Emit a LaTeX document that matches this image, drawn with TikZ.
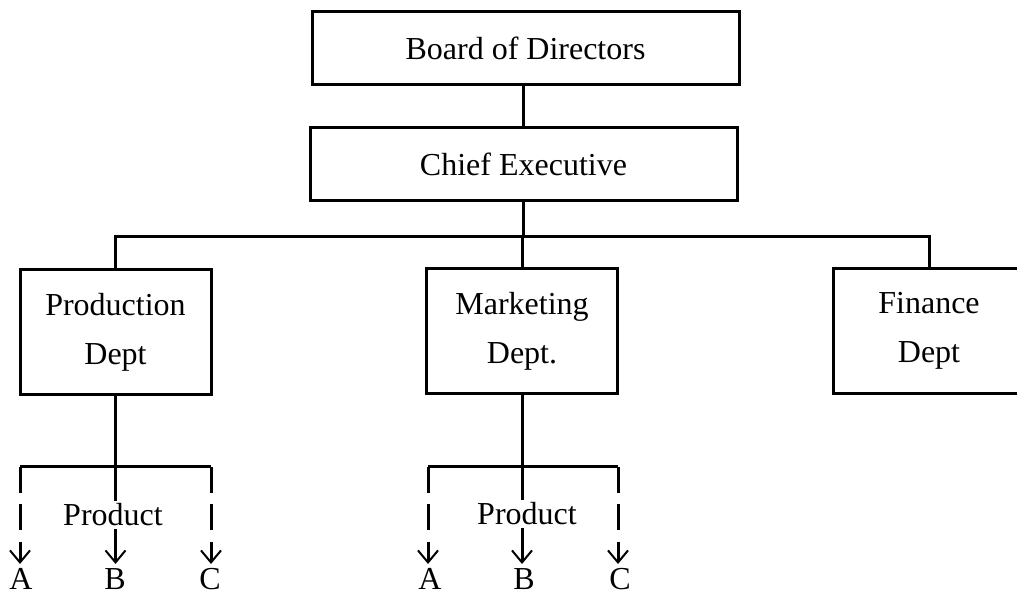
\documentclass[tikz,border=0pt]{standalone}
\usepackage{fontspec}
\setmainfont{Liberation Serif}
\usetikzlibrary{arrows.meta}
\begin{document}
\begin{tikzpicture}[x=0.5pt,y=-0.5pt,
  box/.style={draw,line width=1.5pt,inner sep=0pt,align=center,font=\fontsize{16}{24.5}\selectfont},
  widebox/.style={box,minimum width=213.5pt,minimum height=36.5pt},
  deptbox/.style={box,minimum width=95.5pt,minimum height=62.5pt},
  conn/.style={line width=1.5pt},
  branch/.style={line width=1.5pt,dash pattern=on 13pt off 5.75pt},
  tip/.style={-{Straight Barb[length=6pt,width=10pt,line width=1pt]}},
  lbl/.style={inner sep=0pt,font=\fontsize{16}{19}\selectfont,anchor=base},
  prodlbl/.style={lbl,fill=white,inner sep=1.5pt}]
\useasboundingbox (0,0) rectangle (1017,597);

% boxes
\node[widebox] (board) at (525.5,48.5) {Board of Directors};
\node[widebox] (chief) at (523.5,164.5) {Chief Executive};
\node[deptbox] (prod) at (115.5,332.5) {Production\\Dept};
\node[deptbox] (mkt) at (522,331.5) {Marketing\\Dept.};
\node[deptbox] (fin) at (929,331) {Finance\\Dept};

% top connectors
\coordinate (bus) at (523,237);
\draw[conn] (chief.north) -- (chief.north |- board.south);
\draw[conn] (chief.south) -- (chief.south |- bus);
\draw[conn] (prod.north) |- (fin.north |- bus) -- (fin.north);
\draw[conn] (mkt.north) -- (mkt.north |- bus);

% production products
\coordinate (pa0) at (20,467);
\coordinate (pc0) at (211,467);
\coordinate (pat) at (20,564);
\coordinate (pbt) at (115.5,564);
\coordinate (pct) at (211,564);
\draw[conn] (pa0) -- (pc0);
\draw[branch,tip] (pa0) -- (pat);
\draw[branch,tip] (pc0) -- (pct);
\draw[conn,tip] (prod.south) -- (pbt);
\node[prodlbl] (pprod) at (113,526) {Product};
\node[lbl] (pA) at (21,590) {A};
\node[lbl] (pB) at (115,590) {B};
\node[lbl] (pC) at (210,590) {C};

% marketing products
\coordinate (ma0) at (428,467);
\coordinate (mc0) at (618,467);
\coordinate (mat) at (428,564);
\coordinate (mbt) at (522,564);
\coordinate (mct) at (618,564);
\draw[conn] (ma0) -- (mc0);
\draw[branch,tip] (ma0) -- (mat);
\draw[branch,tip] (mc0) -- (mct);
\draw[conn,tip] (mkt.south) -- (mbt);
\node[prodlbl] (mprod) at (527,525) {Product};
\node[lbl] (mA) at (430,590) {A};
\node[lbl] (mB) at (524,590) {B};
\node[lbl] (mC) at (620,590) {C};
\end{tikzpicture}
\end{document}
